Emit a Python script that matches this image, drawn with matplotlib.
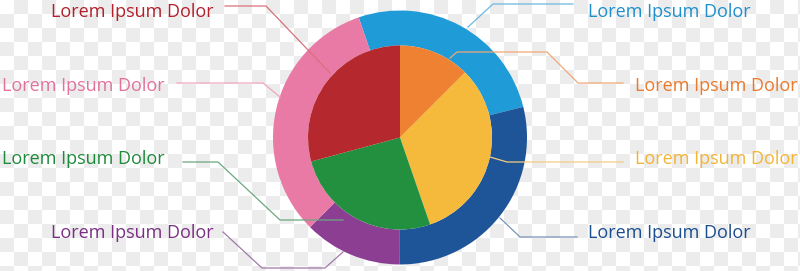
import matplotlib.pyplot as plt
from matplotlib.colors import ListedColormap
import numpy as np

W, H = 800, 271

# inner pie (clockwise from 12 o'clock)
inner_labels = ["Orange", "Yellow", "Green", "Red"]
inner_values = [12.5, 32.2, 26.1, 29.2]
inner_colors = ["#ef8232", "#f5b93b", "#23903f", "#b5282e"]

# outer ring (clockwise from 109 deg)
outer_labels = ["Light blue", "Dark blue", "Purple", "Pink"]
outer_values = [26.4, 28.9, 12.5, 32.2]
outer_colors = ["#1f9bd7", "#1d5598", "#8c3f92", "#e97aa6"]

label_text = "Lorem Ipsum Dolor"
text_colors = ["#b3202c", "#e2729c", "#1e8a3b", "#7b2f84",
               "#1e8fcd", "#eb7a2b", "#f3b536", "#1b4e8f"]
line_colors = ["#d9707c", "#f0a6c2", "#6aa880", "#a07aa8",
               "#6cb8e0", "#f0a878", "#f5cd80", "#7a93b8"]

# (x, baseline y, ha) in pixel units, y measured from top
text_pos = [(214, 17, "right"), (165, 91, "right"), (165, 164, "right"),
            (214, 238, "right"), (588, 17, "left"), (635, 91, "left"),
            (635, 164, "left"), (588, 238, "left")]

leaders = [
    [(225, 6), (266, 6), (330, 73)],
    [(177, 83), (263, 83), (280, 97)],
    [(183, 162), (218, 162), (280, 220), (343, 220)],
    [(223, 232), (262, 268), (325, 268), (343, 252)],
    [(468, 27), (493, 4), (573, 4)],
    [(450, 58), (457, 52), (547, 52), (578, 83), (623, 83)],
    [(490, 157), (507, 162), (623, 162)],
    [(500, 218), (520, 237), (577, 237)],
]

fig = plt.figure(figsize=(8, 2.71), dpi=100)

# transparent-style checkerboard background, drawn in pixels
sq = 14
yy, xx = np.indices((H, W))
checker = (((xx // sq) + (yy // sq)) % 2).astype(float)
fig.figimage(checker, cmap=ListedColormap(["#ffffff", "#ececec"]),
             zorder=-5, origin="upper")

ax = fig.add_axes([0, 0, 1, 1])
ax.patch.set_alpha(0)

cx, cy = 400, H - 137.5
r_out, r_in = 127, 92

ax.pie(outer_values, colors=outer_colors, startangle=109, counterclock=False,
       radius=r_out, center=(cx, cy),
       wedgeprops=dict(width=r_out - r_in, linewidth=0))
ax.pie(inner_values, colors=inner_colors, startangle=90, counterclock=False,
       radius=r_in, center=(cx, cy), wedgeprops=dict(linewidth=0))

for pts, c in zip(leaders, line_colors):
    xs = [p[0] for p in pts]
    ys = [H - p[1] for p in pts]
    ax.plot(xs, ys, color=c, lw=0.9, zorder=1)

for (x, y, ha), c in zip(text_pos, text_colors):
    ax.text(x, H - y, label_text, color=c, ha=ha, va="baseline",
            fontsize=13, family="Open Sans")

ax.set_xlim(0, W)
ax.set_ylim(0, H)
ax.set_aspect("equal")
ax.axis("off")

fig.savefig("out.png", dpi=100)
